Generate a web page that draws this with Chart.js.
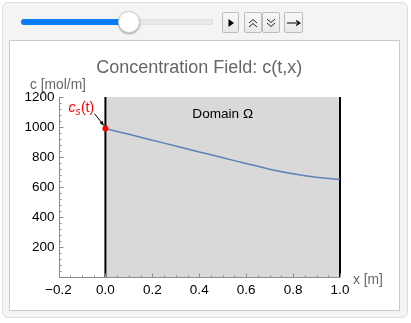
<!DOCTYPE html>
<html>
<head>
<meta charset="utf-8">
<script src="https://cdn.jsdelivr.net/npm/chart.js@4"></script>
<style>
  body { margin: 0; width: 411px; height: 323px; background: #fff; position: relative; overflow: hidden;
         font-family: "Liberation Sans", Arial, sans-serif; }
  #panel { position: absolute; left: 2px; top: 2px; width: 404px; height: 314px; background: #f4f4f4;
           border: 1px solid #dedede; border-radius: 6px; }
  #plotbox { position: absolute; left: 9px; top: 40px; width: 389px; height: 269px; background: #fff;
             border: 1px solid #cbcbcb; }
  #track { position: absolute; left: 21px; top: 19px; width: 192px; height: 6px; border-radius: 3px;
           background: #e8e8e8; box-shadow: inset 0 0 1px rgba(0,0,0,.25); }
  #fill { position: absolute; left: 0; top: 0; width: 108px; height: 6px; border-radius: 3px; background: #0a7cf7; }
  #thumb { position: absolute; left: 118px; top: 11px; width: 20px; height: 20px; border-radius: 50%;
           background: #fff; border: 1px solid #d0d0d0; box-shadow: 0 1px 2px rgba(0,0,0,.35); }
  .btn { position: absolute; top: 12px; height: 19px; background: linear-gradient(#f8f8f8, #e9e9e9);
         border: 1px solid #bdbdbd; border-radius: 2px; display: flex; align-items: center; justify-content: center; }
  #chart { position: absolute; left: 0; top: 0; }
</style>
</head>
<body>
<div id="panel"></div>
<div id="plotbox"></div>
<div id="track"><div id="fill"></div></div>
<div id="thumb"></div>
<div class="btn" style="left:222px;width:15px"><svg width="8" height="10"><path d="M1.5 1 L7 5 L1.5 9 Z" fill="#000"/></svg></div>
<div class="btn" style="left:244px;width:16px"><svg width="10" height="10"><path d="M1 5 L5 1.5 L9 5 M1 9 L5 5.5 L9 9" stroke="#222" fill="none"/></svg></div>
<div class="btn" style="left:262px;width:16px"><svg width="10" height="10"><path d="M1 1 L5 4.5 L9 1 M1 5 L5 8.5 L9 5" stroke="#222" fill="none"/></svg></div>
<div class="btn" style="left:284px;width:17px"><svg width="14" height="8"><path d="M0 4 H12 M9 1.5 L13 4 L9 6.5" stroke="#000" fill="none" stroke-width="1.2"/></svg></div>
<canvas id="chart" width="411" height="323"></canvas>
<script>
// Concentration profile along the domain
const xPos = [0, 0.1, 0.2, 0.3, 0.4, 0.5, 0.6, 0.7, 0.8, 0.9, 1.0];
const conc = [990, 951, 912, 873, 834, 795, 757, 719, 688, 665, 651];
// Surface concentration c_s(t) at x = 0
const surfaceX = [0];
const surfaceC = [990];
// Domain bounds
const domainX = [0, 1];
const domainC = [0, 1200];
const xTicks = [-0.2, 0, 0.2, 0.4, 0.6, 0.8, 1.0];
const yTicks = [200, 400, 600, 800, 1000, 1200];

const FONT = '"Liberation Sans", Arial, sans-serif';
const axisColor = '#8c8c8c';

// gray domain rectangle with black walls
const domainPlugin = {
  id: 'domain',
  beforeDatasetsDraw(chart) {
    const { ctx, scales: { x, y } } = chart;
    const x0 = x.getPixelForValue(domainX[0]), x1 = x.getPixelForValue(domainX[1]);
    const y0 = y.getPixelForValue(domainC[0]), y1 = y.getPixelForValue(domainC[1]);
    ctx.save();
    ctx.fillStyle = '#d9d9d9';
    ctx.fillRect(x0, y1, x1 - x0, y0 - y1);
    ctx.strokeStyle = '#000';
    ctx.lineWidth = 2;
    ctx.beginPath();
    ctx.moveTo(x0, y0); ctx.lineTo(x0, y1);
    ctx.moveTo(x1, y0); ctx.lineTo(x1, y1);
    ctx.stroke();
    ctx.restore();
  }
};

// axes with inward major/minor ticks, labels and annotation
const axesPlugin = {
  id: 'axes',
  afterDraw(chart) {
    const { ctx, chartArea: a, scales: { x, y } } = chart;
    ctx.save();
    ctx.strokeStyle = axisColor;
    ctx.lineWidth = 1;
    ctx.beginPath();
    const ax = Math.round(a.left) + 0.5, ay = Math.round(a.bottom) + 0.5;
    ctx.moveTo(ax, a.top); ctx.lineTo(ax, ay);
    ctx.moveTo(ax, ay); ctx.lineTo(a.right, ay);
    // x ticks
    for (let i = 0; i <= 24; i++) {
      const v = -0.2 + i * 0.05;
      const px = Math.round(x.getPixelForValue(v)) + 0.5;
      const len = i % 4 === 0 ? 4 : 2;
      ctx.moveTo(px, ay); ctx.lineTo(px, ay - len);
    }
    // y ticks
    for (let i = 0; i <= 30; i++) {
      const v = i * 40;
      const py = Math.round(y.getPixelForValue(v)) + 0.5;
      const len = i % 5 === 0 ? 4 : 2;
      ctx.moveTo(ax, py); ctx.lineTo(ax + len, py);
    }
    ctx.stroke();

    // title
    ctx.fillStyle = '#666';
    ctx.font = '18px ' + FONT;
    ctx.textAlign = 'center';
    ctx.textBaseline = 'alphabetic';
    ctx.fillText('Concentration Field: c(t,x)', (a.left + a.right) / 2, 73);

    // axis titles
    ctx.font = '13.8px ' + FONT;
    ctx.textBaseline = 'middle';
    ctx.textAlign = 'left';
    ctx.fillStyle = '#666';
    ctx.fillText('c [mol/m]', 30, 85);
    ctx.fillText('x [m]', a.right + 13, a.bottom + 3);

    // domain label
    ctx.fillStyle = '#000';
    ctx.font = '13.6px ' + FONT;
    ctx.textAlign = 'center';
    ctx.fillText('Domain \u03A9', x.getPixelForValue(0.5), a.top + 17);

    // c_s(t) label with arrow to the surface point
    const sx = x.getPixelForValue(surfaceX[0]), sy = y.getPixelForValue(surfaceC[0]);
    ctx.fillStyle = '#f00';
    ctx.textAlign = 'left';
    ctx.textBaseline = 'alphabetic';
    let tx = sx - 37, ty = sy - 17;
    ctx.font = 'italic 14px ' + FONT;
    ctx.fillText('c', tx, ty);
    tx += ctx.measureText('c').width;
    ctx.font = 'italic 10px ' + FONT;
    ctx.fillText('s', tx, ty + 3);
    tx += ctx.measureText('s').width + 0.5;
    ctx.font = '14px ' + FONT;
    ctx.fillText('(t)', tx, ty);

    const bx = sx - 11, by = sy - 15, ex = sx - 1.5, ey = sy - 3;
    ctx.strokeStyle = '#000';
    ctx.lineWidth = 1;
    ctx.beginPath();
    ctx.moveTo(bx, by); ctx.lineTo(ex, ey);
    ctx.stroke();
    const ang = Math.atan2(ey - by, ex - bx);
    ctx.fillStyle = '#000';
    ctx.beginPath();
    ctx.moveTo(ex, ey);
    ctx.lineTo(ex - 5 * Math.cos(ang - 0.4), ey - 5 * Math.sin(ang - 0.4));
    ctx.lineTo(ex - 5 * Math.cos(ang + 0.4), ey - 5 * Math.sin(ang + 0.4));
    ctx.closePath();
    ctx.fill();
    ctx.restore();
  }
};

new Chart(document.getElementById('chart'), {
  type: 'line',
  data: {
    datasets: [
      {
        data: xPos.map((v, i) => ({ x: v, y: conc[i] })),
        borderColor: '#5e81b5',
        borderWidth: 1.5,
        pointRadius: 0,
        tension: 0.4,
        order: 2
      },
      {
        data: surfaceX.map((v, i) => ({ x: v, y: surfaceC[i] })),
        showLine: false,
        pointRadius: 3,
        pointBackgroundColor: '#f00',
        pointBorderWidth: 0,
        order: 1
      }
    ]
  },
  options: {
    responsive: false,
    animation: false,
    events: [],
    layout: { padding: { left: 0, top: 97, right: 71, bottom: 26 } },
    plugins: { legend: { display: false }, tooltip: { enabled: false } },
    scales: {
      x: {
        type: 'linear', min: -0.2, max: 1.0,
        afterBuildTicks: s => { s.ticks = xTicks.map(v => ({ value: v })); },
        afterFit: s => { s.height = 20; },
        grid: { display: false, drawTicks: false },
        border: { display: false },
        ticks: {
          color: '#000', padding: 5, maxRotation: 0,
          font: { family: FONT, size: 13.5 },
          callback: v => (v < -1e-9 ? '\u2212' : '') + Math.abs(v).toFixed(1)
        }
      },
      y: {
        min: 0, max: 1200,
        afterBuildTicks: s => { s.ticks = yTicks.map(v => ({ value: v })); },
        afterFit: s => { s.width = 58.5; },
        grid: { display: false, drawTicks: false },
        border: { display: false },
        ticks: {
          color: '#000', padding: 4,
          font: { family: FONT, size: 13.5 },
          callback: v => String(v)
        }
      }
    }
  },
  plugins: [domainPlugin, axesPlugin]
});
</script>
</body>
</html>
